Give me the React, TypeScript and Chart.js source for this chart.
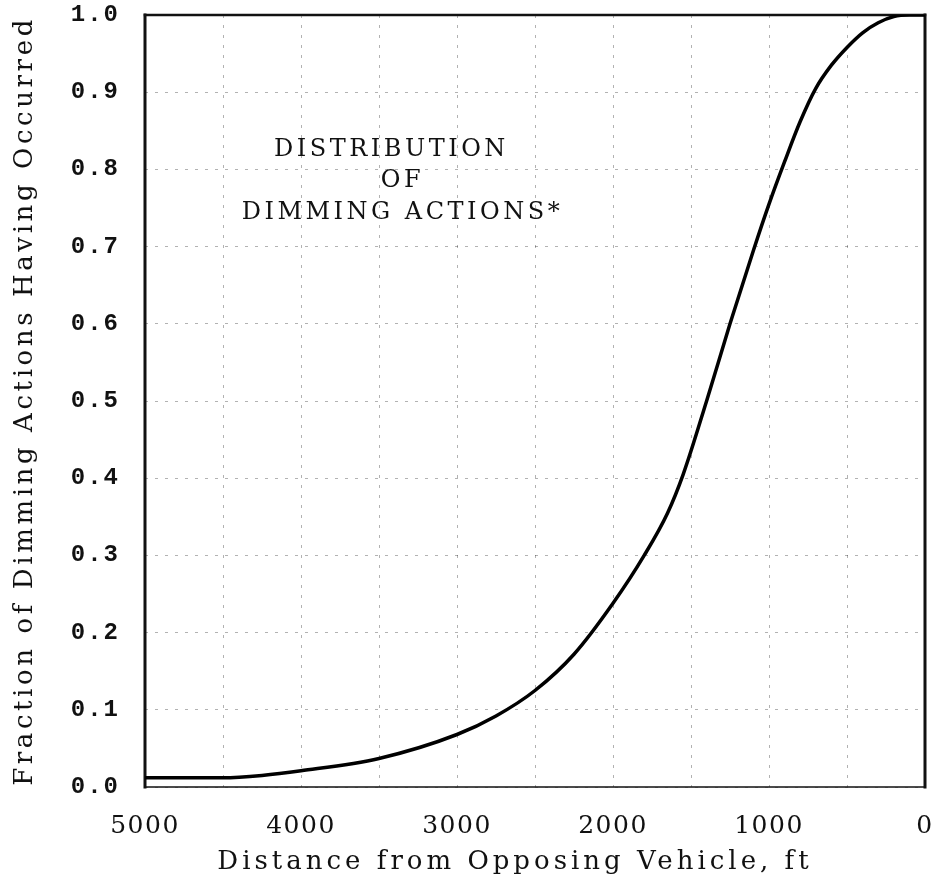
import React, { useEffect, useRef } from 'react';
import { Chart, registerables } from 'chart.js';

Chart.register(...registerables);

// Distance from opposing vehicle (ft) and cumulative fraction of dimming actions
const distanceFt = [5000, 4500, 4250, 4000, 3500, 3000, 2750, 2500, 2250, 2000, 1800, 1650, 1550, 1400, 1250, 1100, 1000, 900, 800, 700, 600, 500, 400, 300, 200, 100, 0];
const fractionOccurred = [0.012, 0.012, 0.015, 0.021, 0.037, 0.068, 0.092, 0.125, 0.172, 0.238, 0.3, 0.355, 0.405, 0.5, 0.6, 0.695, 0.755, 0.81, 0.862, 0.905, 0.935, 0.958, 0.977, 0.99, 0.998, 1.0, 1.0];

const xLabeledTicks = [5000, 4000, 3000, 2000, 1000, 0];
const xTitle = 'Distance from Opposing Vehicle, ft';
const yTitle = 'Fraction of Dimming Actions Having Occurred';

const annotationLines = ['DISTRIBUTION', 'OF', 'DIMMING ACTIONS*'];
const annotationXft = [3420, 3350, 3350];
const annotationYfrac = [0.825, 0.785, 0.744];

const labelSpacing: Record<string, string> = { x: '1.5px', y: '2px' };
const titleSpacing: Record<string, string> = { x: '4px', y: '3.6px' };
const titleShiftX: Record<string, number> = { x: -20, y: 2 };

const spacingPlugin = {
  id: 'letterSpacingPlugin',
  afterUpdate(chart: any) {
    Object.values(chart.scales).forEach((scale: any) => {
      if (scale.__spaced) return;
      scale.__spaced = true;
      const id = scale.id;
      const origLabels = scale.drawLabels;
      scale.drawLabels = function (area: any) {
        const ctx = this.ctx;
        const prev = ctx.letterSpacing;
        ctx.letterSpacing = labelSpacing[id] || '0px';
        origLabels.call(this, area);
        ctx.letterSpacing = prev;
      };
      const origTitle = scale.drawTitle;
      scale.drawTitle = function () {
        const ctx = this.ctx;
        ctx.save();
        ctx.letterSpacing = titleSpacing[id] || '0px';
        ctx.translate(titleShiftX[id] || 0, 0);
        origTitle.call(this);
        ctx.restore();
      };
    });
  },
};

const framePlugin = {
  id: 'framePlugin',
  beforeDatasetsDraw(chart: any) {
    const { ctx, chartArea } = chart;
    const { left, right, top, bottom } = chartArea;
    ctx.save();
    ctx.strokeStyle = '#111';
    ctx.lineCap = 'square';
    const seg = (w: number, x1: number, y1: number, x2: number, y2: number) => {
      ctx.lineWidth = w;
      ctx.beginPath();
      ctx.moveTo(x1, y1);
      ctx.lineTo(x2, y2);
      ctx.stroke();
    };
    seg(3, left, top, left, bottom);
    seg(2.5, left, top, right, top);
    seg(3, right, top, right, bottom);
    seg(1.5, left, bottom, right, bottom);
    ctx.restore();
  },
};

const annotationPlugin = {
  id: 'annotationPlugin',
  afterDatasetsDraw(chart: any) {
    const { ctx } = chart;
    const xs = chart.scales.x;
    const ys = chart.scales.y;
    ctx.save();
    ctx.fillStyle = '#111';
    ctx.font = '24px "DejaVu Serif"';
    (ctx as any).letterSpacing = '3.5px';
    ctx.textAlign = 'center';
    ctx.textBaseline = 'middle';
    annotationLines.forEach((line, i) => {
      ctx.fillText(line, xs.getPixelForValue(annotationXft[i]), ys.getPixelForValue(annotationYfrac[i]));
    });
    ctx.restore();
  },
};

const zeroPadding = (scale: any) => {
  scale.paddingTop = 0;
  scale.paddingBottom = 0;
  scale.paddingLeft = 0;
  scale.paddingRight = 0;
};

export default function App() {
  const canvasRef = useRef<HTMLCanvasElement | null>(null);

  useEffect(() => {
    if (!canvasRef.current) return;
    const chart = new Chart(canvasRef.current, {
      type: 'line',
      data: {
        datasets: [
          {
            data: distanceFt.map((d, i) => ({ x: d, y: fractionOccurred[i] })),
            borderColor: '#000',
            borderWidth: 3.5,
            pointRadius: 0,
            fill: false,
            cubicInterpolationMode: 'monotone',
          },
        ],
      },
      options: {
        responsive: false,
        animation: false,
        layout: { autoPadding: false, padding: { top: 15, right: 10, left: 0, bottom: 0 } },
        plugins: {
          legend: { display: false },
          tooltip: { enabled: false },
        },
        scales: {
          x: {
            type: 'linear',
            reverse: true,
            min: 0,
            max: 5000,
            border: { display: false, dash: [3, 7] },
            grid: { color: 'rgba(0,0,0,0.3)', lineWidth: 1, drawTicks: false },
            ticks: {
              stepSize: 500,
              autoSkip: false,
              maxRotation: 0,
              padding: 24,
              color: '#111',
              font: { family: '"DejaVu Serif"', size: 25 },
              callback: (v: any) => (xLabeledTicks.includes(Number(v)) ? String(v) : ''),
            },
            title: {
              display: true,
              text: xTitle,
              color: '#111',
              font: { family: '"DejaVu Serif"', size: 26 },
              padding: { top: 2, bottom: 0 },
            },
            afterFit: (scale: any) => {
              scale.height = 91;
              zeroPadding(scale);
            },
          },
          y: {
            type: 'linear',
            min: 0,
            max: 1,
            border: { display: false, dash: [3, 7] },
            grid: { color: 'rgba(0,0,0,0.3)', lineWidth: 1, drawTicks: false },
            ticks: {
              stepSize: 0.1,
              padding: 25,
              color: '#111',
              font: { family: '"Liberation Mono"', size: 24, weight: 'bold' },
              callback: (v: any) => Number(v).toFixed(1),
            },
            title: {
              display: true,
              text: yTitle,
              color: '#111',
              font: { family: '"DejaVu Serif"', size: 26 },
              padding: { top: 8, bottom: 0 },
            },
            afterFit: (scale: any) => {
              scale.width = 145;
              zeroPadding(scale);
            },
          },
        },
      },
      plugins: [spacingPlugin, framePlugin, annotationPlugin],
    } as any);
    return () => chart.destroy();
  }, []);

  return (
    <div style={{ position: 'absolute', left: 0, top: 0, width: 935, height: 878, background: '#fff' }}>
      <canvas ref={canvasRef} width={935} height={878} style={{ display: 'block' }} />
    </div>
  );
}
